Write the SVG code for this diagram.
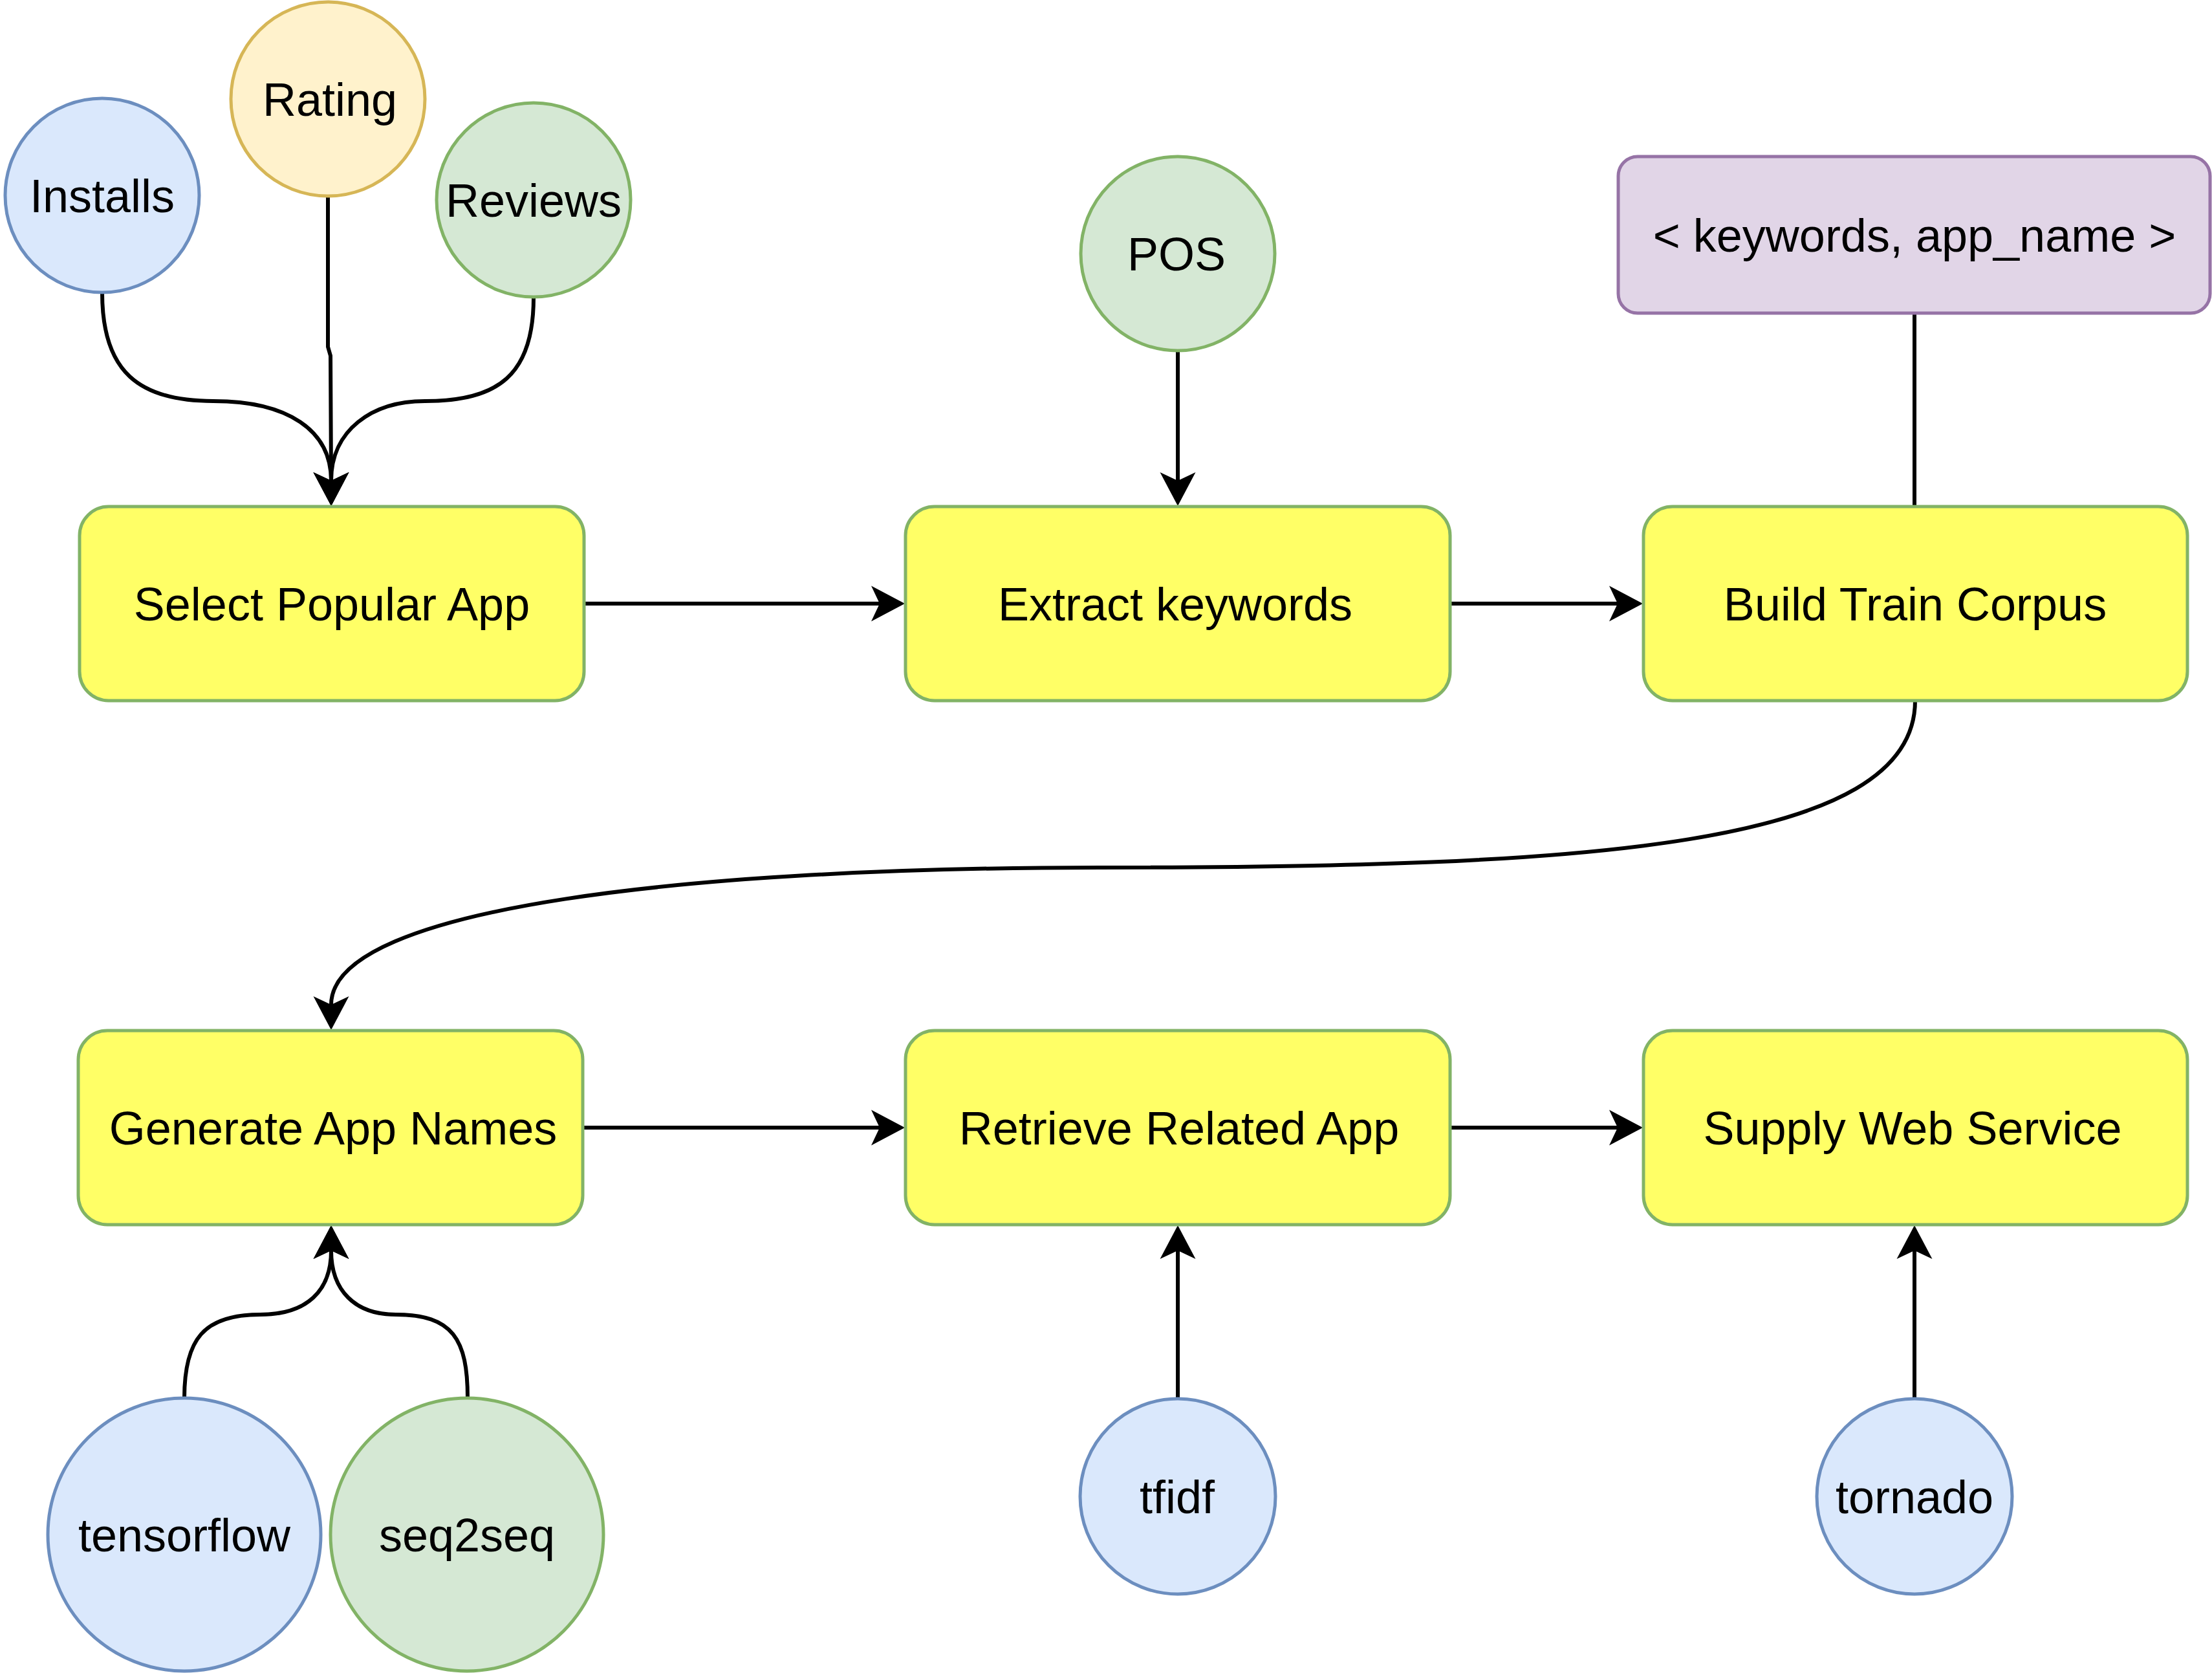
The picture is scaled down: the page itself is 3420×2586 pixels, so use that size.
<svg xmlns="http://www.w3.org/2000/svg" width="3420" height="2586" viewBox="0 0 3420 2586">
<style>
text{font-family:"Liberation Sans",Arial,Helvetica,sans-serif;font-size:72px;fill:#000;text-anchor:middle}
.box{fill:#FFFF66;stroke:#82B366;stroke-width:5}
.blue{fill:#DAE8FC;stroke:#6C8EBF;stroke-width:5}
.green{fill:#D5E8D4;stroke:#82B366;stroke-width:5}
.yel{fill:#FFF2CC;stroke:#D6B656;stroke-width:5}
.pur{fill:#E1D5E7;stroke:#9673A6;stroke-width:5}
.edge{fill:none;stroke:#000;stroke-width:6}
.arr{marker-end:url(#ah)}
</style>
<defs>
<marker id="ah" markerUnits="userSpaceOnUse" markerWidth="53" markerHeight="56" refX="13" refY="27.5" orient="auto" viewBox="0 0 53 55">
<path d="M0 0 L52 27.5 L0 55 L13 27.5 Z" fill="#000"/>
</marker>
</defs>
<rect width="3420" height="2586" fill="#fff"/>
<g id="connectors">
<path class="edge arr" d="M158 453 C158 575 215 620 330 620 C445 620 512 665 512 743"/>
<path class="edge arr" d="M507 304 L507 536 L511 550 L512 743"/>
<path class="edge arr" d="M825 460 C825 580 770 620 657 620 C575 620 512 665 512 743"/>
<path class="edge arr" d="M904 933 L1360 933"/>
<path class="edge arr" d="M2242 933 L2501 933"/>
<path class="edge arr" d="M1821 543 L1821 743"/>
<path class="edge" d="M2960 484 L2960 783"/>
<path class="edge arr" d="M2961 1083 C2961 1310 2450 1341 1700 1341 C1080 1341 512 1400 512 1553"/>
<path class="edge arr" d="M902 1743 L1360 1743"/>
<path class="edge arr" d="M2242 1743 L2501 1743"/>
<path class="edge arr" d="M285 2161 C285 2070 315 2032 402 2032 C475 2032 512 1995 512 1933"/>
<path class="edge arr" d="M723 2161 C723 2070 700 2032 612 2032 C549 2032 512 1995 512 1933"/>
<path class="edge arr" d="M1821 2161 L1821 1933"/>
<path class="edge arr" d="M2960 2161 L2960 1933"/>
</g>
<g id="installs"><circle class="blue" cx="158" cy="302" r="150"/><text x="158" y="328">Installs</text></g>
<g id="rating"><circle class="yel" cx="507" cy="153" r="150"/><text x="510" y="179">Rating</text></g>
<g id="reviews"><circle class="green" cx="825" cy="309" r="150"/><text x="825" y="335">Reviews</text></g>
<g id="pos"><circle class="green" cx="1821" cy="392" r="150"/><text x="1819" y="418">POS</text></g>
<g id="pair"><rect class="pur" x="2502" y="242" width="915" height="242" rx="30" ry="30"/><text x="2960" y="389">&lt; keywords, app_name &gt;</text></g>
<g id="select"><rect class="box" x="123" y="783" width="780" height="300" rx="45" ry="45"/><text x="513" y="959">Select Popular App</text></g>
<g id="extract"><rect class="box" x="1400" y="783" width="842" height="300" rx="45" ry="45"/><text x="1817" y="959">Extract keywords</text></g>
<g id="build"><rect class="box" x="2541" y="783" width="841" height="300" rx="45" ry="45"/><text x="2961" y="959">Build Train Corpus</text></g>
<g id="generate"><rect class="box" x="121" y="1593" width="780" height="300" rx="45" ry="45"/><text x="515" y="1769">Generate App Names</text></g>
<g id="retrieve"><rect class="box" x="1400" y="1593" width="842" height="300" rx="45" ry="45"/><text x="1823" y="1769">Retrieve Related App</text></g>
<g id="supply"><rect class="box" x="2541" y="1593" width="841" height="300" rx="45" ry="45"/><text x="2957" y="1769">Supply Web Service</text></g>
<g id="tensorflow"><circle class="blue" cx="285" cy="2372" r="211"/><text x="285" y="2398">tensorflow</text></g>
<g id="seq2seq"><circle class="green" cx="722" cy="2372" r="211"/><text x="722" y="2398">seq2seq</text></g>
<g id="tfidf"><circle class="blue" cx="1821" cy="2313" r="151"/><text x="1820" y="2339">tfidf</text></g>
<g id="tornado"><circle class="blue" cx="2960" cy="2313" r="151"/><text x="2960" y="2339">tornado</text></g>
</svg>
